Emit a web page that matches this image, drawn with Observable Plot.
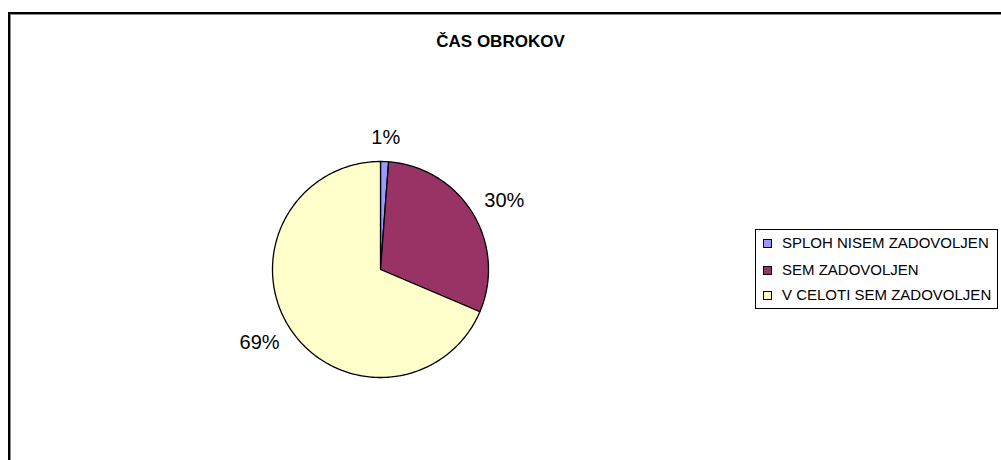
<!DOCTYPE html>
<html>
<head>
<meta charset="utf-8">
<script src="https://cdn.jsdelivr.net/npm/d3@7"></script>
<script src="https://cdn.jsdelivr.net/npm/@observablehq/plot@0.6"></script>
<style>
  html, body { margin: 0; padding: 0; background: #fff; width: 1001px; height: 460px; overflow: hidden; }
  #wrap { position: relative; width: 1001px; height: 460px; font-family: "Liberation Sans", Arial, sans-serif; }
  #frame { position: absolute; left: 8px; top: 12px; width: 1100px; height: 600px; border-left: 2px solid #000; border-top: 2px solid #000; box-shadow: inset 1px 1px 0 #888; }
  #title { position: absolute; left: 0; width: 1001px; top: 32px; text-align: center; font-weight: bold; font-size: 17px; line-height: 20px; color: #000; }
  #chart { position: absolute; left: 0; top: 0; }
  #legend { position: absolute; left: 755px; top: 229px; width: 243px; height: 80px; border: 1px solid #000; background: #fff; box-sizing: border-box; font-size: 15px; }
  .item { position: absolute; left: 7px; height: 18px; line-height: 18px; white-space: nowrap; }
  .sw { position: absolute; left: 0; top: 5px; width: 7px; height: 7px; border: 1px solid #000; }
  .tx { position: absolute; left: 19px; top: 0; }
</style>
</head>
<body>
<div id="wrap">
  <div id="frame"></div>
  <div id="chart"></div>
  <div id="title"></div>
  <div id="legend"></div>
</div>
<script>
const title = "ČAS OBROKOV";
const categories = ["SPLOH NISEM ZADOVOLJEN", "SEM ZADOVOLJEN", "V CELOTI SEM ZADOVOLJEN"];
const values = [1.2, 30.2, 68.6];
const labels = ["1%", "30%", "69%"];
const colors = ["#9999FF", "#993366", "#FFFFCC"];

document.getElementById("title").textContent = title;

const pie = d3.pie().sort(null).value(d => d)(values);

// Build wedge polygons (unit circle) from the pie angles
const wedgePts = [];
pie.forEach((p, i) => {
  const n = Math.max(2, Math.ceil((p.endAngle - p.startAngle) / (Math.PI * 2) * 360));
  wedgePts.push({cat: categories[i], x: 0, y: 0});
  for (let k = 0; k <= n; k++) {
    const a = p.startAngle + (p.endAngle - p.startAngle) * k / n;
    wedgePts.push({cat: categories[i], x: Math.sin(a), y: Math.cos(a)});
  }
  wedgePts.push({cat: categories[i], x: 0, y: 0});
});

const cx = 380, cy = 269, r = 108;
const labelFont = 20;
const labelGap = 17;
const charW = ch => (ch === "%" ? 0.889 : 0.556) * labelFont;
const labelData = pie.map((p, i) => {
  const a = (p.startAngle + p.endAngle) / 2;
  const w = [...labels[i]].reduce((s, ch) => s + charW(ch), 0);
  const h = 14;
  const px = Math.sin(a) * (r + labelGap + w / 2);
  const py = Math.cos(a) * (r + labelGap + h / 2);
  return {label: labels[i], x: px / r, y: py / r};
});

const plot = Plot.plot({
  width: 1001,
  height: 460,
  margin: 0,
  style: {background: "transparent", overflow: "visible"},
  x: {domain: [-1, 1], range: [cx - r, cx + r], axis: null},
  y: {domain: [-1, 1], range: [cy + r, cy - r], axis: null},
  color: {domain: categories, range: colors},
  marks: [
    Plot.line(wedgePts, {x: "x", y: "y", z: "cat", fill: "cat", stroke: "#000", strokeWidth: 1.3, strokeLinejoin: "round", curve: "linear"}),
    Plot.text(labelData, {x: "x", y: "y", text: "label", fontSize: labelFont, fill: "#000", fontFamily: "Liberation Sans, Arial, sans-serif"})
  ]
});
document.getElementById("chart").appendChild(plot);

const legend = document.getElementById("legend");
const rowTops = [4, 31, 56];
categories.forEach((c, i) => {
  const it = document.createElement("div");
  it.className = "item";
  it.style.top = rowTops[i] + "px";
  const sw = document.createElement("span");
  sw.className = "sw";
  sw.style.background = colors[i];
  const tx = document.createElement("span");
  tx.className = "tx";
  tx.textContent = c;
  it.appendChild(sw);
  it.appendChild(tx);
  legend.appendChild(it);
});
</script>
</body>
</html>
